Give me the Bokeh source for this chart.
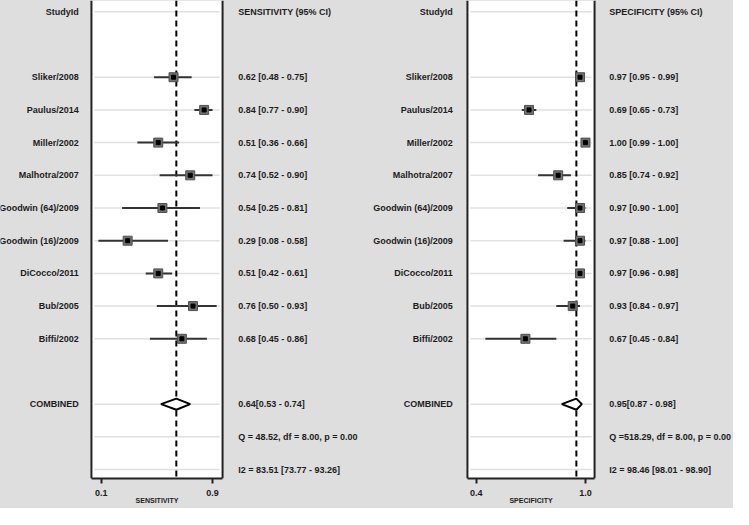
from bokeh.plotting import figure
from bokeh.models import Range1d, ColumnDataSource, FixedTicker, PrintfTickFormatter
from bokeh.layouts import row
from bokeh.core.properties import value
from bokeh.embed import file_html
from bokeh.resources import INLINE

# ---------------- data ----------------
studies = ["Sliker/2008", "Paulus/2014", "Miller/2002", "Malhotra/2007",
           "Goodwin (64)/2009", "Goodwin (16)/2009", "DiCocco/2011",
           "Bub/2005", "Biffi/2002"]
sens = [0.62, 0.84, 0.51, 0.74, 0.54, 0.29, 0.51, 0.76, 0.68]
sens_lo = [0.48, 0.77, 0.36, 0.52, 0.25, 0.08, 0.42, 0.50, 0.45]
sens_hi = [0.75, 0.90, 0.66, 0.90, 0.81, 0.58, 0.61, 0.93, 0.86]
spec = [0.97, 0.69, 1.00, 0.85, 0.97, 0.97, 0.97, 0.93, 0.67]
spec_lo = [0.95, 0.65, 0.99, 0.74, 0.90, 0.88, 0.96, 0.84, 0.45]
spec_hi = [0.99, 0.73, 1.00, 0.92, 1.00, 1.00, 0.98, 0.97, 0.84]
sens_comb = [0.64, 0.53, 0.74]
spec_comb = [0.95, 0.87, 0.98]
sens_q = "Q = 48.52, df = 8.00, p =  0.00"
spec_q = "Q =518.29, df = 8.00, p =  0.00"
sens_i2 = "I2 = 83.51 [73.77 - 93.26]"
spec_i2 = "I2 = 98.46 [98.01 - 98.90]"
sens_ticks = [0.1, 0.9]
spec_ticks = [0.4, 1.0]

BG = "#dedede"
INK = "#1c1c1c"
FONT = value("Liberation Sans")
FS = "9px"
# reference picture is 749x525; page content area is 733x509
SX, SY = 733 / 749, 509 / 525
TOTAL_H = 508
ROW0, ROWH = 11.7, 33.72
BOX_BOTTOM = 493
FRAME_H = int(round(BOX_BOTTOM * SY))
Y_TOP = (0 - ROW0) / ROWH
Y_BOT = (BOX_BOTTOM - ROW0) / ROWH
STUDY_ROWS = list(range(2, 2 + len(studies)))
COMB_ROW, Q_ROW, I2_ROW = 12, 13, 14


def base_fig(ref_l, ref_r, x_range):
    fw = int(round(ref_r * SX)) - int(round(ref_l * SX))
    p = figure(width=fw, height=TOTAL_H, x_range=x_range,
               y_range=Range1d(Y_BOT, Y_TOP),
               output_backend="svg", toolbar_location=None,
               y_axis_location=None, min_border_left=0, min_border_right=0,
               min_border_top=0, min_border_bottom=TOTAL_H - FRAME_H,
               background_fill_color=BG, border_fill_color=BG,
               outline_line_color=None, styles={"background-color": BG})
    p.xgrid.visible = False
    p.ygrid.visible = False
    return p


def text_fig(ref_l, ref_r):
    p = base_fig(ref_l, ref_r, Range1d(ref_l, ref_r))
    p.xaxis.visible = False
    return p


def add_text(p, x, rows, texts, align):
    p.text(x=[x] * len(texts), y=rows, text=texts, text_align=align,
           text_baseline="middle", text_font=FONT, text_font_style="bold",
           text_font_size=FS, text_color=INK)


def box_fig(ref_l, ref_r, t0, t1, box_l, box_r, est, lo, hi, comb, title, ticks):
    (v0, p0), (v1, p1) = t0, t1
    scale = (p1 - p0) / (v1 - v0)

    def xv(px):
        return v0 + (px - p0) / scale

    p = base_fig(ref_l, ref_r, Range1d(xv(ref_l), xv(ref_r)))
    bl, br = xv(box_l), xv(box_r)
    p.quad(left=[bl], right=[br], top=[Y_TOP], bottom=[Y_BOT],
           fill_color="white", line_color=None)

    grid_rows = [0] + STUDY_ROWS + [COMB_ROW, Q_ROW, I2_ROW]
    p.segment(x0=[xv(box_l + 3)] * len(grid_rows), x1=[xv(box_r - 3)] * len(grid_rows),
              y0=grid_rows, y1=grid_rows, line_color="#e0e0e0", line_width=1.5)

    p.segment(x0=[bl, br], x1=[bl, br], y0=[Y_TOP, Y_TOP], y1=[Y_BOT, Y_BOT],
              line_color="#222222", line_width=2)

    p.segment(x0=[comb[0]], x1=[comb[0]], y0=[Y_TOP], y1=[Y_BOT],
              line_color="black", line_width=2, line_dash="6 4")

    src = ColumnDataSource(dict(y=STUDY_ROWS, est=est, lo=lo, hi=hi))
    p.segment(x0="lo", x1="hi", y0="y", y1="y", source=src,
              line_color="#333333", line_width=2)
    p.scatter(x="est", y="y", source=src, marker="square", size=9,
              fill_color="#707070", line_color="#505050")
    p.scatter(x="est", y="y", source=src, marker="square", size=4,
              fill_color="black", line_color="black")

    h = 0.17
    c, cl, ch = comb
    p.patch(x=[cl, c, ch, c], y=[COMB_ROW, COMB_ROW - h, COMB_ROW, COMB_ROW + h],
            fill_color="white", line_color="black", line_width=2)

    ax = p.xaxis[0]
    ax.ticker = FixedTicker(ticks=ticks)
    ax.formatter = PrintfTickFormatter(format="%.1f")
    ax.bounds = (bl, br)
    ax.axis_line_width = 2
    ax.axis_line_color = "#222222"
    ax.major_tick_in = 0
    ax.major_tick_out = 5
    ax.major_tick_line_width = 2
    ax.major_tick_line_color = "#222222"
    ax.minor_tick_line_color = None
    ax.major_label_standoff = 6
    ax.major_label_text_font = "Liberation Sans"
    ax.major_label_text_font_style = "bold"
    ax.major_label_text_font_size = FS
    ax.major_label_text_color = INK
    ax.axis_label = title
    ax.axis_label_standoff = -2
    ax.axis_label_text_font = "Liberation Sans"
    ax.axis_label_text_font_style = "bold"
    ax.axis_label_text_font_size = "7px"
    ax.axis_label_text_color = INK
    return p


def values(est, lo, hi, comb, q, i2, header):
    return [header] + ["%.2f [%.2f - %.2f]" % t for t in zip(est, lo, hi)] + \
           ["%.2f[%.2f - %.2f]" % tuple(comb), q, i2]


LAB_ROWS = [0] + STUDY_ROWS + [COMB_ROW]
VAL_ROWS = [0] + STUDY_ROWS + [COMB_ROW, Q_ROW, I2_ROW]
labels = ["StudyId"] + studies + ["COMBINED"]

# left study labels
fa = text_fig(0, 90)
add_text(fa, 80, LAB_ROWS, labels, "right")

# sensitivity box
fb = box_fig(90, 230, (0.1, 103), (0.9, 216.7), 93, 227,
             sens, sens_lo, sens_hi, sens_comb, "SENSITIVITY", sens_ticks)

# sensitivity values + specificity study labels
fc = text_fig(230, 474)
add_text(fc, 243, VAL_ROWS,
         values(sens, sens_lo, sens_hi, sens_comb, sens_q, sens_i2, "SENSITIVITY (95% CI)"),
         "left")
add_text(fc, 462, LAB_ROWS, labels, "right")

# specificity box
fd = box_fig(474, 610, (0.4, 486), (1.0, 597.7), 477, 607,
             spec, spec_lo, spec_hi, spec_comb, "SPECIFICITY", spec_ticks)

# specificity values
fe = text_fig(610, 749)
add_text(fe, 622, VAL_ROWS,
         values(spec, spec_lo, spec_hi, spec_comb, spec_q, spec_i2, "SPECIFICITY (95% CI)"),
         "left")

layout = row(fa, fb, fc, fd, fe, styles={"background-color": BG})
open("out.html", "w").write(file_html(layout, INLINE))
